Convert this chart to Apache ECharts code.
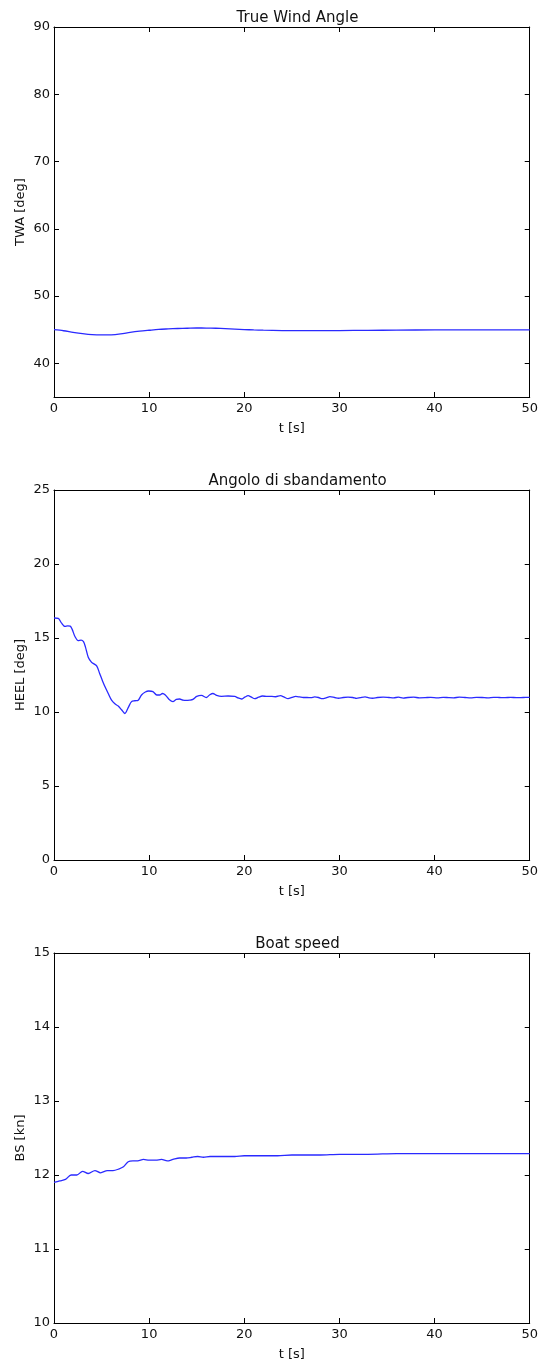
<!DOCTYPE html>
<html>
<head>
<meta charset="utf-8">
<script src="https://cdn.jsdelivr.net/npm/echarts@6/dist/echarts.min.js"></script>
<style>
  html, body { margin: 0; padding: 0; background: #fff; }
  #chart { width: 541px; height: 1366px; }
</style>
</head>
<body>
<div id="chart"></div>
<script>
// subplot titles and axis names
const titles = ['True Wind Angle', 'Angolo di sbandamento', 'Boat speed']
const yNames = ['TWA [deg]', 'HEEL [deg]', 'BS [kn]']
const xName = 't [s]'
const yRanges = [[35, 90], [0, 25], [10, 15]]
const yTicks = [
  [40, 50, 60, 70, 80, 90],
  [0, 5, 10, 15, 20, 25],
  [10, 11, 12, 13, 14, 15]
]
const xTicks = [0, 10, 20, 30, 40, 50]

// True wind angle
const twaT = [0, 1, 2, 3, 4, 5, 6, 7, 8, 9, 10, 11, 12, 13, 14, 15, 16, 17, 18, 19, 20,
  21, 22, 24, 26, 28, 30, 33, 36, 40, 45, 50]
const twaV = [45.0, 44.85, 44.62, 44.42, 44.27, 44.22, 44.24, 44.38, 44.6, 44.78, 44.92,
  45.05, 45.12, 45.18, 45.22, 45.26, 45.25, 45.22, 45.17, 45.1, 45.03,
  44.97, 44.93, 44.88, 44.86, 44.86, 44.88, 44.91, 44.94, 44.97, 44.97, 44.97]

// heel angle
const heelT = [0, 0.45, 0.8, 1.15, 1.45, 1.7, 1.9, 2.2, 2.55, 2.85, 3.1, 3.3, 3.6, 3.95, 4.2,
  4.5, 4.8, 5.1, 5.4, 5.7, 6.05, 6.4, 6.75, 7.1, 7.45, 7.8, 8.15, 8.5, 8.85, 9.2, 9.6, 9.95,
  10.4, 10.8, 11.1, 11.4, 11.7, 12.1, 12.5, 12.85, 13.2, 13.55, 13.9, 14.25, 14.6, 15.0,
  15.5, 16.0, 16.35, 16.7, 17.1, 17.6, 18.3, 19.0, 19.35, 19.7, 20.05, 20.4, 20.75, 21.1,
  21.5, 21.9, 22.4, 22.9, 23.3, 23.8, 24.2, 24.6, 25.0, 25.4, 25.8, 26.2, 26.6, 27.0, 27.4,
  27.8, 28.2, 28.6, 29.0, 29.5, 29.9, 30.4, 30.9, 31.4, 31.8, 32.2, 32.7, 33.1, 33.5, 34.0,
  34.6, 35.2, 35.7, 36.2, 36.7, 37.2, 37.8, 38.4, 39.0, 39.6, 40.3, 40.9, 41.5, 42.0, 42.6,
  43.2, 43.8, 44.4, 45.0, 45.6, 46.2, 46.8, 47.4, 48.0, 48.6, 49.3, 50.0]
const heelV = [16.35, 16.32, 16.0, 15.78, 15.82, 15.8, 15.6, 15.1, 14.82, 14.86, 14.75, 14.4,
  13.7, 13.35, 13.25, 13.1, 12.6, 12.1, 11.65, 11.25, 10.8, 10.55, 10.4, 10.15, 9.9, 10.3,
  10.7, 10.76, 10.8, 11.15, 11.35, 11.42, 11.38, 11.15, 11.15, 11.25, 11.15, 10.85, 10.7,
  10.85, 10.88, 10.8, 10.78, 10.8, 10.85, 11.05, 11.12, 10.98, 11.15, 11.25, 11.12, 11.06,
  11.08, 11.05, 10.95, 10.88, 11.0, 11.1, 11.0, 10.9, 11.0, 11.08, 11.05, 11.05, 11.03,
  11.1, 11.0, 10.9, 10.98, 11.05, 11.02, 10.98, 10.98, 10.97, 11.02, 10.98, 10.9, 10.96,
  11.04, 10.98, 10.93, 10.98, 11.0, 10.98, 10.92, 10.97, 11.02, 10.95, 10.93, 10.98, 11.0,
  10.98, 10.96, 11.0, 10.94, 10.98, 11.0, 10.96, 10.97, 10.99, 10.95, 10.99, 10.97, 10.96,
  11.0, 10.98, 10.96, 10.99, 10.98, 10.96, 10.99, 10.98, 10.97, 10.99, 10.97, 10.98, 10.99]

// boat speed
const bsT = [0, 0.6, 1.2, 1.8, 2.4, 3.0, 3.6, 4.3, 4.9, 5.6, 6.2, 6.8, 7.3, 7.8, 8.3, 8.8,
  9.4, 10.0, 10.7, 11.3, 11.9, 12.5, 13.2, 13.9, 14.5, 15.1, 15.7, 16.4, 17.2, 18.0, 19.0,
  20.0, 21.0, 22.0, 23.5, 25.0, 26.5, 28.0, 30.0, 33.0, 36.0, 40.0, 45.0, 50.0]
const bsV = [11.9, 11.92, 11.94, 12.0, 12.0, 12.05, 12.02, 12.06, 12.03, 12.06, 12.06, 12.08,
  12.11, 12.18, 12.19, 12.19, 12.21, 12.2, 12.2, 12.21, 12.19, 12.21, 12.23, 12.23, 12.24,
  12.25, 12.24, 12.25, 12.25, 12.25, 12.25, 12.26, 12.26, 12.26, 12.26, 12.27, 12.27, 12.27,
  12.28, 12.28, 12.29, 12.29, 12.29, 12.29]

const seriesT = [twaT, heelT, bsT]
const seriesV = [twaV, heelV, bsV]

const font = 'DejaVu Sans'
const tops = [27, 490, 953]
const plotH = 370
const left = 54
const plotW = 477

const chart = echarts.init(document.getElementById('chart'))

const grid = []
const xAxis = []
const yAxis = []
const series = []
const title = []

const lineStyle = { color: '#000', width: 1 }
const labelStyle = { fontFamily: font, fontSize: 13, color: '#111' }

tops.forEach((top, i) => {
  grid.push({ left: left, top: top, width: plotW, height: plotH })
  title.push({
    text: titles[i],
    left: left + plotW / 2,
    top: top - 21,
    textAlign: 'center',
    textStyle: { fontFamily: font, fontSize: 15, fontWeight: 'normal', color: '#111' }
  })
  // bottom x axis with labels
  xAxis.push({
    type: 'value', gridIndex: i, min: 0, max: 50, interval: 10,
    name: xName, nameLocation: 'middle', nameGap: 25, nameMoveOverlap: false,
    nameTextStyle: labelStyle,
    axisLine: { show: true, onZero: false, lineStyle },
    axisTick: { show: true, inside: true, length: 5, lineStyle, customValues: xTicks },
    axisLabel: Object.assign({ margin: 5, customValues: xTicks }, labelStyle),
    splitLine: { show: false }
  })
  // top x axis, ticks only
  xAxis.push({
    type: 'value', gridIndex: i, min: 0, max: 50, interval: 10, position: 'top',
    axisLine: { show: true, onZero: false, lineStyle },
    axisTick: { show: true, inside: true, length: 5, lineStyle, customValues: xTicks },
    axisLabel: { show: false },
    splitLine: { show: false }
  })
  const [ymin, ymax] = yRanges[i]
  yAxis.push({
    type: 'value', gridIndex: i, min: ymin, max: ymax,
    name: yNames[i], nameLocation: 'middle', nameGap: 27, nameRotate: 90,
    nameMoveOverlap: false,
    nameTextStyle: labelStyle,
    axisLine: { show: true, onZero: false, lineStyle },
    axisTick: { show: true, inside: true, length: 5, lineStyle, customValues: yTicks[i] },
    axisLabel: Object.assign({ margin: 4, customValues: yTicks[i] }, labelStyle),
    splitLine: { show: false }
  })
  yAxis.push({
    type: 'value', gridIndex: i, min: ymin, max: ymax, position: 'right',
    axisLine: { show: true, onZero: false, lineStyle },
    axisTick: { show: true, inside: true, length: 5, lineStyle, customValues: yTicks[i] },
    axisLabel: { show: false },
    splitLine: { show: false }
  })
  series.push({
    type: 'line',
    xAxisIndex: i * 2,
    yAxisIndex: i * 2,
    data: seriesT[i].map((t, k) => [t, seriesV[i][k]]),
    smooth: 0.3,
    showSymbol: false,
    lineStyle: { color: '#2a2aff', width: 1.3 },
    animation: false
  })
})

chart.setOption({
  backgroundColor: '#fff',
  animation: false,
  title,
  grid,
  xAxis,
  yAxis,
  series
})
</script>
</body>
</html>
